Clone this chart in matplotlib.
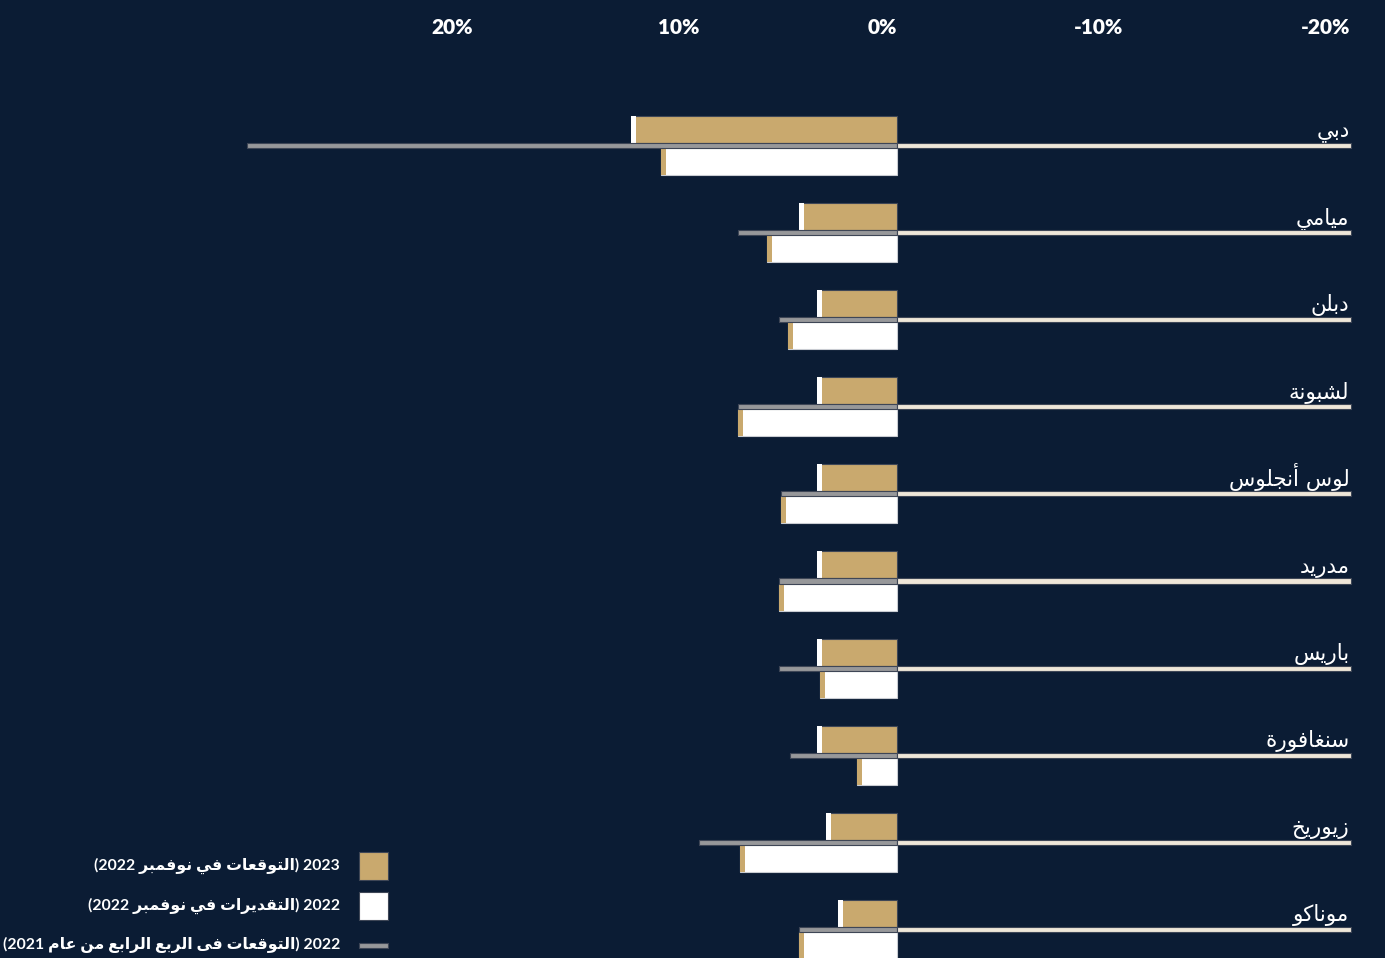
import re
import numpy as np
import matplotlib
matplotlib.use('Agg')
from matplotlib import pyplot as plt
from matplotlib.patches import Rectangle

# --- data (percent change in prime prices) ---
cities = ['دبي', 'ميامي', 'دبلن', 'لشبونة', 'لوس أنجلوس',
          'مدريد', 'باريس', 'سنغافورة', 'زيوريخ', 'موناكو']
f2023 = [11.7, 4.3, 3.5, 3.5, 3.5, 3.5, 3.5, 3.5, 3.1, 2.6]     # forecast 2023 (Nov 2022)
e2022 = [10.4, 5.7, 4.8, 7.0, 5.1, 5.2, 3.4, 1.75, 6.9, 4.3]    # estimate 2022 (Nov 2022)
f2022 = [28.6, 7.0, 5.2, 7.0, 5.1, 5.2, 5.2, 4.7, 8.7, 4.3]     # forecast 2022 (Q4 2021)
ticks = [20, 10, 0, -10, -20]
tick_labels = ['20%', '10%', '0%', '-10%', '-20%']
legend_labels = ['2023 (التوقعات في نوفمبر 2022)',
                 '2022 (التقديرات في نوفمبر 2022)',
                 '2022 (التوقعات فى الربع الرابع من عام 2021)']

BG = '#0b1c34'
TAN = '#c9a96e'
GREY = '#97989a'
CREAM = '#efe7d9'
EDGE = '#3e4656'

# arabic contextual forms (presentation forms B), isolated code point
DUAL = {'ب': 0xFE8F, 'ت': 0xFE95, 'ث': 0xFE99, 'ج': 0xFE9D, 'ح': 0xFEA1,
        'خ': 0xFEA5, 'س': 0xFEB1, 'ش': 0xFEB5, 'ص': 0xFEB9, 'ض': 0xFEBD,
        'ط': 0xFEC1, 'ظ': 0xFEC5, 'ع': 0xFEC9, 'غ': 0xFECD, 'ف': 0xFED1,
        'ق': 0xFED5, 'ك': 0xFED9, 'ل': 0xFEDD, 'م': 0xFEE1, 'ن': 0xFEE5,
        'ه': 0xFEE9, 'ي': 0xFEF1}
RIGHT = {'ا': 0xFE8D, 'أ': 0xFE83, 'ة': 0xFE93, 'د': 0xFEA9, 'ذ': 0xFEAB,
         'ر': 0xFEAD, 'ز': 0xFEAF, 'و': 0xFEED, 'ى': 0xFEEF}
LAMALEF = {'ا': 0xFEFB, 'أ': 0xFEF7}


def shape(s):
    out = []
    i = 0
    while i < len(s):
        c = s[i]
        prev = s[i - 1] if i > 0 else ''
        nxt = s[i + 1] if i + 1 < len(s) else ''
        jp = prev in DUAL and bool(out) and out[-1] != ' '
        if c == 'ل' and nxt in LAMALEF:
            out.append(chr(LAMALEF[nxt] + (1 if jp else 0)))
            i += 2
            continue
        if c in DUAL:
            jn = nxt in DUAL or nxt in RIGHT
            form = 3 if (jp and jn) else 1 if jp else 2 if jn else 0
            out.append(chr(DUAL[c] + form))
        elif c in RIGHT:
            out.append(chr(RIGHT[c] + (1 if jp else 0)))
        else:
            out.append(c)
        i += 1
    return ''.join(out)


def ar(s):
    # shape, then lay out right-to-left keeping numbers left-to-right
    v = shape(s)[::-1]
    v = re.sub(r'[0-9]+', lambda m: m.group()[::-1], v)
    return v.translate(str.maketrans('()', ')('))


W, H = 1385, 958
fig = plt.figure(figsize=(W / 100, H / 100), dpi=100, facecolor=BG)
ax = fig.add_axes([0, 0, 1, 1])
ax.set_facecolor(BG)
ax.axis('off')
ax.set_xlim(39.50, -21.51)
ax.set_ylim(9.328, -1.670)

y = np.arange(len(cities))
bh = 0.31
off = 0.184
cap = 0.22

ax.barh(y - off, f2023, height=bh, color=TAN, edgecolor=EDGE, lw=0.8, zorder=2)
ax.barh(y - off, cap, left=np.array(f2023) - cap, height=bh, color='white',
        lw=0, zorder=3)
ax.barh(y + off, e2022, height=bh, color='white', edgecolor='#c9ccd2', lw=0.8,
        zorder=2)
ax.barh(y + off, cap, left=np.array(e2022) - cap, height=bh, color=TAN,
        lw=0, zorder=3)
ax.barh(y, f2022, height=0.058, color=GREY, edgecolor=EDGE, lw=0.8, zorder=4)
ax.barh(y, [-20] * len(y), height=0.058, color=CREAM, edgecolor=EDGE, lw=0.8,
        zorder=4)

for yi, name in zip(y, cities):
    ax.text(-19.95, yi - 0.095, ar(name), ha='right', va='baseline',
            color='white', fontsize=15.5, family='DejaVu Sans')

# axis labels along the top, offset as in the layout
label_x = [18.68, 8.68, 0, -10, -20]
for lx, lab in zip(label_x, tick_labels):
    ax.text(lx, -1.35, lab, ha='right', va='center', color='white',
            fontsize=15, fontweight='heavy', family='Lato')

# legend
leg_y = [866, 906, 945]
for i, (ly, lab) in enumerate(zip(leg_y, legend_labels)):
    fig.text(340 / W, 1 - ly / H, ar(lab), ha='right', va='center',
             color='white', fontsize=11.3, fontweight='bold',
             family=['Lato', 'DejaVu Sans'])
    if i < 2:
        fig.add_artist(Rectangle((359 / W, 1 - (ly + 14) / H), 29 / W, 28 / H,
                                 transform=fig.transFigure,
                                 facecolor=[TAN, 'white'][i],
                                 edgecolor=EDGE, lw=0.8))
    else:
        fig.add_artist(Rectangle((359 / W, 1 - (ly + 2.5) / H), 29 / W, 5 / H,
                                 transform=fig.transFigure, facecolor=GREY,
                                 edgecolor=EDGE, lw=0.8))

fig.savefig('out.png', dpi=100, facecolor=BG)
